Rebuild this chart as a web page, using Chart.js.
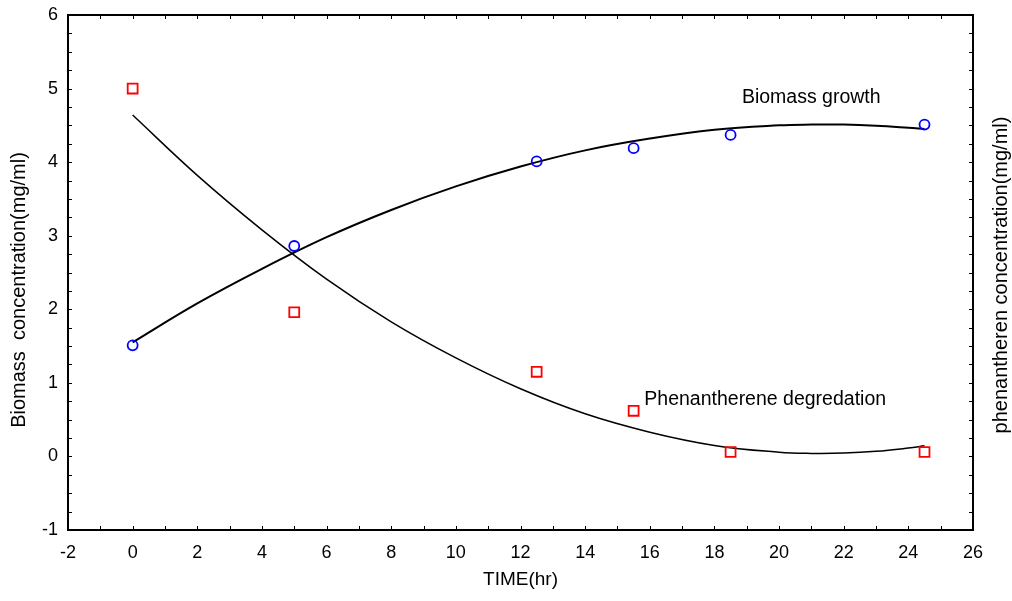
<!DOCTYPE html>
<html>
<head>
<meta charset="utf-8">
<script src="https://cdn.jsdelivr.net/npm/chart.js@4/dist/chart.umd.min.js"></script>
<style>
  html, body { margin: 0; padding: 0; background: #fff; }
  #wrap { width: 1012px; height: 601px; }
</style>
</head>
<body>
<div id="wrap"><canvas id="c" width="1012" height="601"></canvas></div>
<script>
// Measured data points
const timePoints = [0, 5, 12.5, 15.5, 18.5, 24.5];
const biomassValues = [1.51, 2.86, 4.01, 4.19, 4.37, 4.51];
const phenValues = [5.0, 1.96, 1.15, 0.62, 0.06, 0.06];

// Fitted curves
const fitTimes = [0, 2, 4, 6, 8, 10, 12, 14, 16, 18, 20, 21, 22, 23, 24, 24.5];
const biomassFit = [1.55, 2.08, 2.55, 2.98, 3.35, 3.67, 3.94, 4.16, 4.32, 4.44, 4.50, 4.51, 4.51, 4.495, 4.467, 4.45];
const phenFit = [4.64, 3.82, 3.08, 2.41, 1.83, 1.34, 0.92, 0.58, 0.33, 0.15, 0.057, 0.041, 0.045, 0.069, 0.114, 0.144];

// Axis ranges / ticks
const xRange = [-2, 26];
const yRange = [-1, 6];
const xStep = 2;
const yStep = 1;

// Labels
const xTitle = 'TIME(hr)';
const yTitle = 'Biomass  concentration(mg/ml)';
const y2Title = 'phenantheren concentration(mg/ml)';
const annotations = [
  { text: 'Biomass growth', x: 18.85, y: 4.88 },
  { text: 'Phenantherene degredation', x: 15.83, y: 0.77 }
];

const FONT = '"Liberation Sans", Arial, Helvetica, sans-serif';

const toXY = (xs, ys) => xs.map((x, i) => ({ x: x, y: ys[i] }));

const framePlugin = {
  id: 'frame',
  afterDatasetsDraw(chart) {
    const ctx = chart.ctx;
    const a = chart.chartArea;
    const xs = chart.scales.x, ys = chart.scales.y;
    ctx.save();
    ctx.strokeStyle = '#000';
    ctx.lineWidth = 1;
    const tl = 4;
    ctx.beginPath();
    for (let v = xRange[0]; v <= xRange[1]; v += 1) {
      const px = Math.round(xs.getPixelForValue(v)) + 0.5;
      ctx.moveTo(px, a.bottom); ctx.lineTo(px, a.bottom - tl);
      ctx.moveTo(px, a.top); ctx.lineTo(px, a.top + tl);
    }
    for (let v = yRange[0]; v <= yRange[1] + 1e-9; v += 0.25) {
      const py = Math.round(ys.getPixelForValue(v)) + 0.5;
      ctx.moveTo(a.left, py); ctx.lineTo(a.left + tl, py);
      ctx.moveTo(a.right, py); ctx.lineTo(a.right - tl, py);
    }
    ctx.stroke();
    ctx.lineWidth = 2;
    ctx.strokeRect(a.left, a.top, a.right - a.left, a.bottom - a.top);

    // annotations
    ctx.fillStyle = '#000';
    ctx.font = '19.5px ' + FONT;
    ctx.textAlign = 'left';
    ctx.textBaseline = 'middle';
    annotations.forEach(an => {
      ctx.fillText(an.text, xs.getPixelForValue(an.x), ys.getPixelForValue(an.y));
    });

    // axis titles (rotated, reading bottom-to-top)
    const vTitle = (text, cx, cy) => {
      ctx.save();
      ctx.translate(cx, cy);
      ctx.rotate(-Math.PI / 2);
      ctx.textAlign = 'center';
      ctx.textBaseline = 'middle';
      ctx.font = '20px ' + FONT;
      ctx.fillText(text, 0, 0);
      ctx.restore();
    };
    vTitle(yTitle, 19, 290);
    vTitle(y2Title, 1001, 275);
    ctx.restore();
  }
};

new Chart(document.getElementById('c'), {
  type: 'scatter',
  data: {
    datasets: [
      {
        label: 'Biomass',
        data: toXY(timePoints, biomassValues),
        pointStyle: 'circle',
        pointRadius: 5,
        borderColor: '#0000ff',
        backgroundColor: 'rgba(0,0,0,0)',
        borderWidth: 1.8,
        showLine: false,
        order: 0
      },
      {
        label: 'Phenanthrene',
        data: toXY(timePoints, phenValues),
        pointStyle: 'rect',
        pointRadius: 7,
        borderColor: '#ff0000',
        backgroundColor: 'rgba(0,0,0,0)',
        borderWidth: 1.8,
        showLine: false,
        order: 1
      },
      {
        label: 'Biomass fit',
        data: toXY(fitTimes, biomassFit),
        showLine: true,
        pointRadius: 0,
        borderColor: '#000',
        borderWidth: 2,
        tension: 0.4,
        order: 2
      },
      {
        label: 'Phen fit',
        data: toXY(fitTimes, phenFit),
        showLine: true,
        pointRadius: 0,
        borderColor: '#000',
        borderWidth: 1.5,
        tension: 0.4,
        order: 3
      }
    ]
  },
  options: {
    responsive: false,
    animation: false,
    devicePixelRatio: 1,
    layout: { padding: { top: 15, right: 39, left: 0, bottom: 0 } },
    plugins: {
      legend: { display: false },
      tooltip: { enabled: false }
    },
    scales: {
      x: {
        type: 'linear',
        min: xRange[0], max: xRange[1],
        afterFit(s) { s.height = 71; s.paddingLeft = 0; s.paddingRight = 0; },
        grid: { display: false, drawTicks: false },
        border: { display: false },
        ticks: {
          stepSize: xStep,
          color: '#000',
          padding: 12,
          font: { family: FONT, size: 18 },
          maxRotation: 0
        },
        title: {
          display: true,
          text: xTitle,
          color: '#000',
          font: { family: FONT, size: 19 },
          padding: { top: 0, bottom: 10 }
        }
      },
      y: {
        type: 'linear',
        min: yRange[0], max: yRange[1],
        afterFit(s) { s.width = 68; s.paddingTop = 0; s.paddingBottom = 0; },
        grid: { display: false, drawTicks: false },
        border: { display: false },
        ticks: {
          stepSize: yStep,
          color: '#000',
          padding: 10,
          font: { family: FONT, size: 18 }
        }
      }
    }
  },
  plugins: [framePlugin]
});
</script>
</body>
</html>
